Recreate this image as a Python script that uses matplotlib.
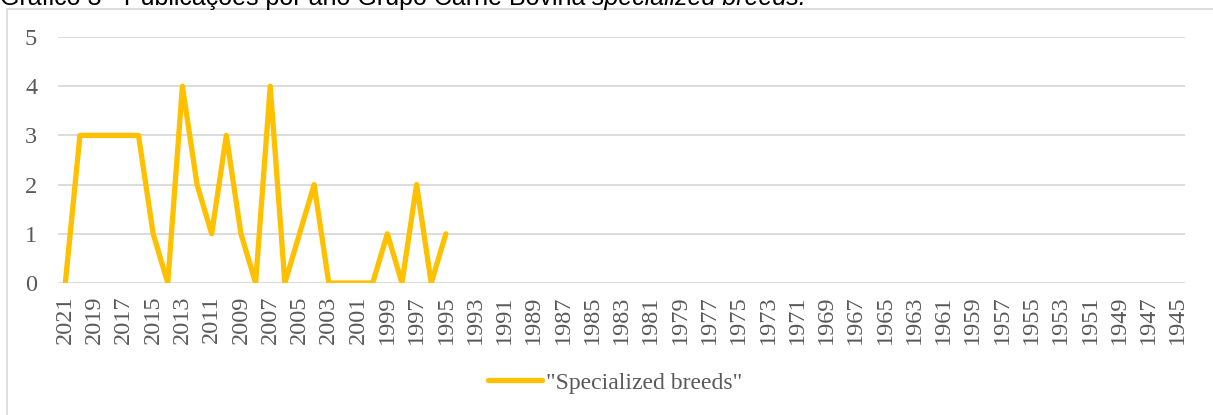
import matplotlib.pyplot as plt
import matplotlib.patches as patches
import numpy as np

# years shown on the category axis (Excel style, newest first)
years = [str(y) for y in range(2021, 1944, -1)]
# publications per year, data only goes back to 1995
counts = [0, 3, 3, 3, 3, 3, 1, 0, 4, 2, 1, 3, 1, 0, 4, 0, 1, 2, 0, 0, 0, 0, 1, 0, 2, 0, 1]
series_name = '"Specialized breeds"'
title_main = "Gráfico 3 - Publicações por ano Grupo Carne Bovina "
title_ital = "specialized breeds."

W, H = 1213, 415
fig = plt.figure(figsize=(W / 100, H / 100), dpi=100)
ax = fig.add_axes([58 / W, 1 - 283 / H, (1185 - 58) / W, (283 - 37) / H])

grey = "#d9d9d9"
txt = "#595959"
serif = ["Liberation Serif", "DejaVu Serif"]

# outer chart border (right/bottom run off the picture)
fig.patches.append(patches.Rectangle((7 / W, -0.1), 1.2, 1 - 9 / H + 0.1,
                                     transform=fig.transFigure, fill=False,
                                     edgecolor=grey, linewidth=1.2))

x = np.arange(len(counts))
ax.plot(x, counts, color="#FFC000", linewidth=3.8, solid_joinstyle="round",
        solid_capstyle="round", label=series_name)

ax.set_xlim(-0.5, len(years) - 0.5)
ax.set_ylim(0, 5)
ax.set_yticks(range(6))
ax.set_xticks(np.arange(0, len(years), 2))
ax.set_xticklabels(years[::2], rotation=90, family=serif, fontsize=17.5, color=txt)
for lab in ax.get_yticklabels():
    lab.set_family(serif)
ax.tick_params(axis="y", length=0, pad=15, labelsize=17.5, labelcolor=txt)
ax.tick_params(axis="x", length=0, pad=9)
ax.grid(axis="y", color=grey, linewidth=1.3)
ax.set_axisbelow(True)
for s in ax.spines.values():
    s.set_visible(False)

# title, mostly cut off by the top edge
t1 = fig.text(0, 1 - 5 / H, title_main, family=["Liberation Sans", "DejaVu Sans"],
              fontsize=18, va="baseline", ha="left")
fig.canvas.draw()
bb = t1.get_window_extent()
fig.text(bb.x1 / W, 1 - 5 / H, title_ital, family=["Liberation Sans", "DejaVu Sans"],
         fontsize=18, style="italic", va="baseline", ha="left")

fig.legend(loc="center", bbox_to_anchor=(615 / W, 1 - 383 / H), frameon=False,
           prop={"family": serif, "size": 17}, labelcolor=txt,
           handlelength=2.3, handletextpad=0.15)

fig.savefig("out.png", dpi=100)
